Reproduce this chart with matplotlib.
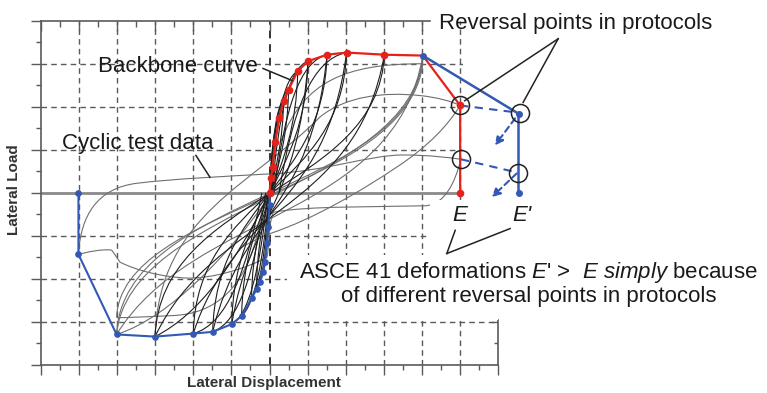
import matplotlib
matplotlib.use("Agg")
import matplotlib.pyplot as plt
from matplotlib.path import Path
from matplotlib.patches import PathPatch, Rectangle

plt.rcParams['font.family'] = 'Liberation Sans'
plt.rcParams['mathtext.fontset'] = 'custom'
plt.rcParams['mathtext.rm'] = 'Liberation Sans'
plt.rcParams['mathtext.it'] = 'Liberation Sans:italic'

# backbone points (displacement, load)
red_x = [0, 0.04, 0.08, 0.15, 0.26, 0.37, 0.50, 0.74, 1.01, 1.51, 2.02, 3.01, 4.02, 5.0, 5.0]
red_y = [0, 0.34, 0.61, 1.18, 1.75, 2.14, 2.40, 2.83, 3.06, 3.21, 3.26, 3.21, 3.19, 2.03, 0.0]
blue_x = [0, 0, -0.03, -0.07, -0.12, -0.16, -0.25, -0.34, -0.47, -0.73, -0.99, -1.49, -2.0, -3.0, -4.01, -5.01, -5.01]
blue_y = [0, -0.29, -0.79, -1.17, -1.61, -1.84, -2.07, -2.24, -2.45, -2.86, -3.05, -3.23, -3.27, -3.34, -3.29, -1.43, 0]
# E' backbone (other protocol)
alt_x = [4.02, 6.53, 6.53]
alt_y = [3.19, 1.84, 0.0]
# reversal points (circled)
rev_x = [5.0, 5.02, 6.56, 6.51]
rev_y = [2.03, 0.78, 1.86, 0.47]

# cyclic test data, drawn as chained cubic bezier control points
loops_dark = [
    [(0.0, 0.0), (0.02, 0.6), (0.08, 1.1), (0.15, 1.18)],
    [(0.0, 0.0), (0.04, 0.9), (0.12, 1.6), (0.26, 1.75)],
    [(0.0, -0.1), (0.08, 1.3), (0.18, 2.0), (0.37, 2.14)],
    [(0.02, -0.05), (0.12, 1.5), (0.25, 2.25), (0.50, 2.40)],
    [(0.04, 0.0), (0.18, 1.8), (0.38, 2.65), (0.74, 2.83)],
    [(0.06, 0.0), (0.25, 1.9), (0.52, 2.9), (1.01, 3.06)],
    [(0.12, 0.0), (0.4, 2.0), (0.8, 3.05), (1.51, 3.21)],
    [(0.25, 0.0), (0.6, 1.9), (1.1, 3.1), (2.02, 3.26)],
    [(0.0, 0.0), (-0.02, -0.6), (-0.05, -1.0), (-0.07, -1.17)],
    [(0.0, 0.0), (-0.03, -0.9), (-0.07, -1.5), (-0.16, -1.84)],
    [(0.0, 0.1), (-0.05, -1.2), (-0.15, -1.9), (-0.34, -2.24)],
    [(-0.01, 0.05), (-0.1, -1.4), (-0.25, -2.2), (-0.47, -2.45)],
    [(-0.02, 0.0), (-0.15, -1.6), (-0.4, -2.6), (-0.73, -2.86)],
    [(-0.04, 0.0), (-0.25, -1.8), (-0.55, -2.85), (-0.99, -3.05)],
    [(-0.1, 0.0), (-0.4, -1.9), (-0.8, -3.0), (-1.49, -3.23)],
    [(-0.2, 0.0), (-0.6, -1.8), (-1.1, -3.05), (-2.0, -3.27)],
    [(-0.34, -2.24), (-0.32, -0.3), (0.33, 0.3), (0.37, 2.14)],
    [(-0.47, -2.45), (-0.44, -0.3), (0.45, 0.2), (0.50, 2.40)],
    [(-0.73, -2.86), (-0.68, -0.3), (0.68, 0.2), (0.74, 2.83)],
    [(-0.99, -3.05), (-0.92, -0.2), (0.93, 0.2), (1.01, 3.06)],
    [(-1.49, -3.23), (-1.4, -0.1), (1.4, 0.1), (1.51, 3.21)],
    [(-2.0, -3.27), (-1.9, 0.0), (1.9, 0.0), (2.02, 3.26)],
    [(-3.0, -3.34), (-2.85, 0.0), (2.85, 0.0), (3.01, 3.21)],
    [(1.01, 3.06), (0.75, -0.3), (-0.5, -0.5), (-0.99, -3.05)],
    [(1.51, 3.21), (1.1, -0.4), (-0.75, -0.5), (-1.49, -3.23)],
    [(2.02, 3.26), (1.5, -0.4), (-1.0, -0.5), (-2.0, -3.27)],
    [(3.01, 3.21), (2.3, -0.5), (-1.5, -0.5), (-3.0, -3.34)],
    [(-0.1, -0.2), (-0.9, -1.6), (-1.8, -2.8), (-3.0, -3.34)],
]
loops_gray = [
    [(-4.01, -3.29), (-3.85, 0.0), (3.85, 0.0), (4.02, 3.19)],
    [(-4.01, -3.29), (-3.7, -0.3), (3.75, 0.1), (4.02, 3.19)],
    [(4.02, 3.19), (3.3, -0.6), (-2.0, -0.4), (-4.01, -3.29)],
    [(-0.1, -0.2), (-1.0, -1.35), (-2.6, -2.9), (-4.01, -3.29)],
    [(-0.2, -0.4), (-0.5, -2.3), (-1.5, -2.8), (-2.5, -2.85),
     (-3.2, -2.88), (-3.7, -2.9), (-4.01, -2.9)],
    [(-4.01, -2.9), (-3.9, -0.3), (3.6, 0.0), (4.02, 3.0)],
    [(0.3, 1.2), (0.9, 2.6), (2.0, 3.0), (4.02, 3.0)],
    [(-5.01, -1.43), (-4.95, -0.5), (-4.5, 0.1), (-3.5, 0.22),
     (-2.5, 0.33), (-1.2, 0.38), (0.0, 0.44),
     (1.5, 0.5), (2.6, 0.88), (3.5, 0.88),
     (4.2, 0.88), (4.7, 0.82), (5.02, 0.78)],
    [(-3.0, -3.34), (-2.9, -0.5), (-0.4, 0.2), (1.32, 1.76),
     (2.0, 2.25), (3.0, 2.35), (3.95, 2.26),
     (4.4, 2.22), (4.8, 2.12), (5.0, 2.03)],
    [(5.02, 0.78), (4.85, 0.2), (4.6, -0.25), (4.1, -0.3),
     (2.8, -0.33), (1.0, -0.3), (0.1, -0.45),
     (-0.05, -0.8), (0.0, -1.3), (-0.07, -1.5),
     (-0.6, -1.75), (-1.5, -2.0), (-2.16, -1.98),
     (-2.8, -1.96), (-3.5, -1.8), (-3.92, -1.61),
     (-4.0, -1.5), (-4.07, -1.42), (-4.14, -1.33),
     (-4.4, -1.3), (-4.8, -1.38), (-5.01, -1.43)],
    [(5.0, 2.03), (4.7, 1.6), (4.2, 1.1), (3.34, 0.6),
     (2.5, 0.1), (1.2, -0.6), (0.0, -0.95),
     (-0.3, -1.05), (-0.6, -1.2), (-0.8, -1.3)],
]

red = '#e3231b'
blue = '#3459b4'
grid_c = '#5a5a5a'

fig = plt.figure(figsize=(7.67, 3.93), dpi=100)
ax = fig.add_axes([40.7 / 767, 28 / 393, 457.6 / 767, 344.3 / 393])
ax.set_xlim(-6, 6)
ax.set_ylim(-4, 4)

xmajor = list(range(-6, 7))
xminor = [v + 0.5 for v in range(-6, 6)]
ymajor = list(range(-4, 5))
yminor = [v + 0.5 for v in range(-4, 4)]

# grid
for gx in xmajor[1:-1]:
    if gx != 0:
        ax.axvline(gx, color=grid_c, lw=1, ls=(0, (4, 3)), zorder=1)
for gy in ymajor[1:-1]:
    if gy != 0:
        ax.axhline(gy, color=grid_c, lw=1, ls=(0, (4, 3)), zorder=1)
ax.axhline(0, color='#8a8a8a', lw=2, zorder=1)
ax.axvline(0, color='#333333', lw=1.4, ls=(0, (4, 3)), zorder=1)

# ticks: bottom/left point outwards
ax.set_xticks(xmajor)
ax.set_xticks(xminor, minor=True)
ax.set_yticks(ymajor)
ax.set_yticks(yminor, minor=True)
ax.tick_params(which='major', direction='out', length=7, width=1, color=grid_c,
               labelbottom=False, labelleft=False)
ax.tick_params(which='minor', direction='out', length=3.5, width=1, color=grid_c)
for s in ['left', 'bottom']:
    ax.spines[s].set_color(grid_c)
    ax.spines[s].set_linewidth(1.2)
ax.spines['top'].set_visible(False)
ax.spines['right'].set_visible(False)

# top and right frame: only partly visible in the original (text boxes cover the rest)
top_end = 4.21
right_start = -2.96
ax.plot([-6, top_end], [4, 4], color=grid_c, lw=1.2, clip_on=False, zorder=2.5)
ax.plot([6, 6], [-4, right_start], color=grid_c, lw=1.2, clip_on=False, zorder=2.5)
ax.vlines([v for v in xmajor if v < top_end], 3.75, 4, color=grid_c, lw=1, zorder=2.5)
ax.vlines([v for v in xminor if v < top_end], 3.86, 4, color=grid_c, lw=1, zorder=2.5)
ax.hlines([v for v in ymajor if v < right_start], 5.8, 6, color=grid_c, lw=1, zorder=2.5)
ax.hlines([v for v in yminor if v < right_start], 5.89, 6, color=grid_c, lw=1, zorder=2.5)


def draw_curve(pts, color, lw):
    codes = [Path.MOVETO] + [Path.CURVE4] * (len(pts) - 1)
    ax.add_patch(PathPatch(Path(pts, codes), facecolor='none', edgecolor=color,
                           lw=lw, zorder=2, clip_on=False))


for c in loops_gray:
    draw_curve(c, '#6f6f6f', 0.8)
for c in loops_dark:
    draw_curve(c, '#1e1e1e', 0.8)

# white masks (the text boxes of the original figure)
masks = [(5.07, -2.96, 1.0, 7.0), (0.46, -2.96, 5.6, 1.51), (4.21, -1.45, 1.0, 1.28)]
for mx, my, mw, mh in masks:
    ax.add_patch(Rectangle((mx, my), mw, mh, facecolor='white', edgecolor='none',
                           zorder=3, clip_on=True))

# backbones
ax.plot(red_x, red_y, color=red, lw=1.6, zorder=6, clip_on=False)
ax.plot(red_x[:-3] + red_x[-2:], red_y[:-3] + red_y[-2:], ls='none', marker='o',
        ms=4.5, color=red, zorder=7, clip_on=False)
ax.plot(blue_x, blue_y, color=blue, lw=1.5, marker='o', ms=3.8, zorder=6, clip_on=False)
ax.plot(alt_x, alt_y, color=blue, lw=1.8, marker='o', ms=4, zorder=6, clip_on=False)

# dashed links between reversal points
ax.plot([rev_x[0], rev_x[2]], [rev_y[0], rev_y[2]], color=blue, lw=1.5, ls=(0, (4, 3)),
        zorder=5, clip_on=False)
ax.plot([rev_x[1], rev_x[3]], [rev_y[1], rev_y[3]], color=blue, lw=1.5, ls=(0, (4, 3)),
        zorder=5, clip_on=False)
for (x0, y0), (x1, y1) in [((6.44, 1.73), (5.91, 1.10)), ((6.48, 0.45), (5.83, -0.10))]:
    ax.annotate('', xy=(x1, y1), xytext=(x0, y0), annotation_clip=False, zorder=6,
                arrowprops=dict(arrowstyle='-|>', color=blue, lw=1.5, ls=(0, (3, 2)),
                                mutation_scale=12, shrinkA=0, shrinkB=0))
ax.plot(rev_x, rev_y, ls='none', marker='o', ms=13, mfc='none', mec='#222222', mew=1.1,
        zorder=8, clip_on=False)

# leader lines
leaders = [((-0.17, 2.89), (0.59, 2.61)), ((-1.93, 0.87), (-1.56, 0.36)),
           ((7.57, 3.58), (5.12, 2.14)), ((7.57, 3.58), (6.65, 2.10)),
           ((4.87, -0.87), (4.65, -1.41)), ((6.31, -0.83), (4.65, -1.41))]
for (x0, y0), (x1, y1) in leaders:
    ax.plot([x0, x1], [y0, y1], color='#222222', lw=1.1, zorder=6, clip_on=False)

tc = '#1a1a1a'
ax.text(-2.40, 2.93, 'Backbone curve', fontsize=16, color=tc, ha='center', va='center', zorder=9)
ax.text(-3.46, 1.15, 'Cyclic test data', fontsize=16, color=tc, ha='center', va='center', zorder=9)
ax.text(8.03, 3.94, 'Reversal points in protocols', fontsize=16, color=tc, ha='center',
        va='center', zorder=9, clip_on=False)
ax.text(4.98, -0.53, 'E', fontsize=16, style='italic', color=tc, ha='center', va='center', zorder=9)
ax.text(6.62, -0.53, "E'", fontsize=16, style='italic', color=tc, ha='center', va='center', zorder=9)
ax.text(6.79, -1.84, r"ASCE 41 deformations $\mathit{E}$' >  $\mathit{E\ simply}$ because",
        fontsize=16, color=tc, ha='center', va='center', zorder=9)
ax.text(6.80, -2.40, 'of different reversal points in protocols', fontsize=16, color=tc,
        ha='center', va='center', zorder=9)

fig.text(264 / 767, 1 - 383 / 393, 'Lateral Displacement', fontsize=11, fontweight='bold',
         color='#333333', ha='center', va='center')
fig.text(14 / 767, 1 - 190 / 393, 'Lateral Load', fontsize=11, fontweight='bold',
         color='#333333', ha='center', va='center', rotation=90)

fig.savefig('out.png', dpi=100)
